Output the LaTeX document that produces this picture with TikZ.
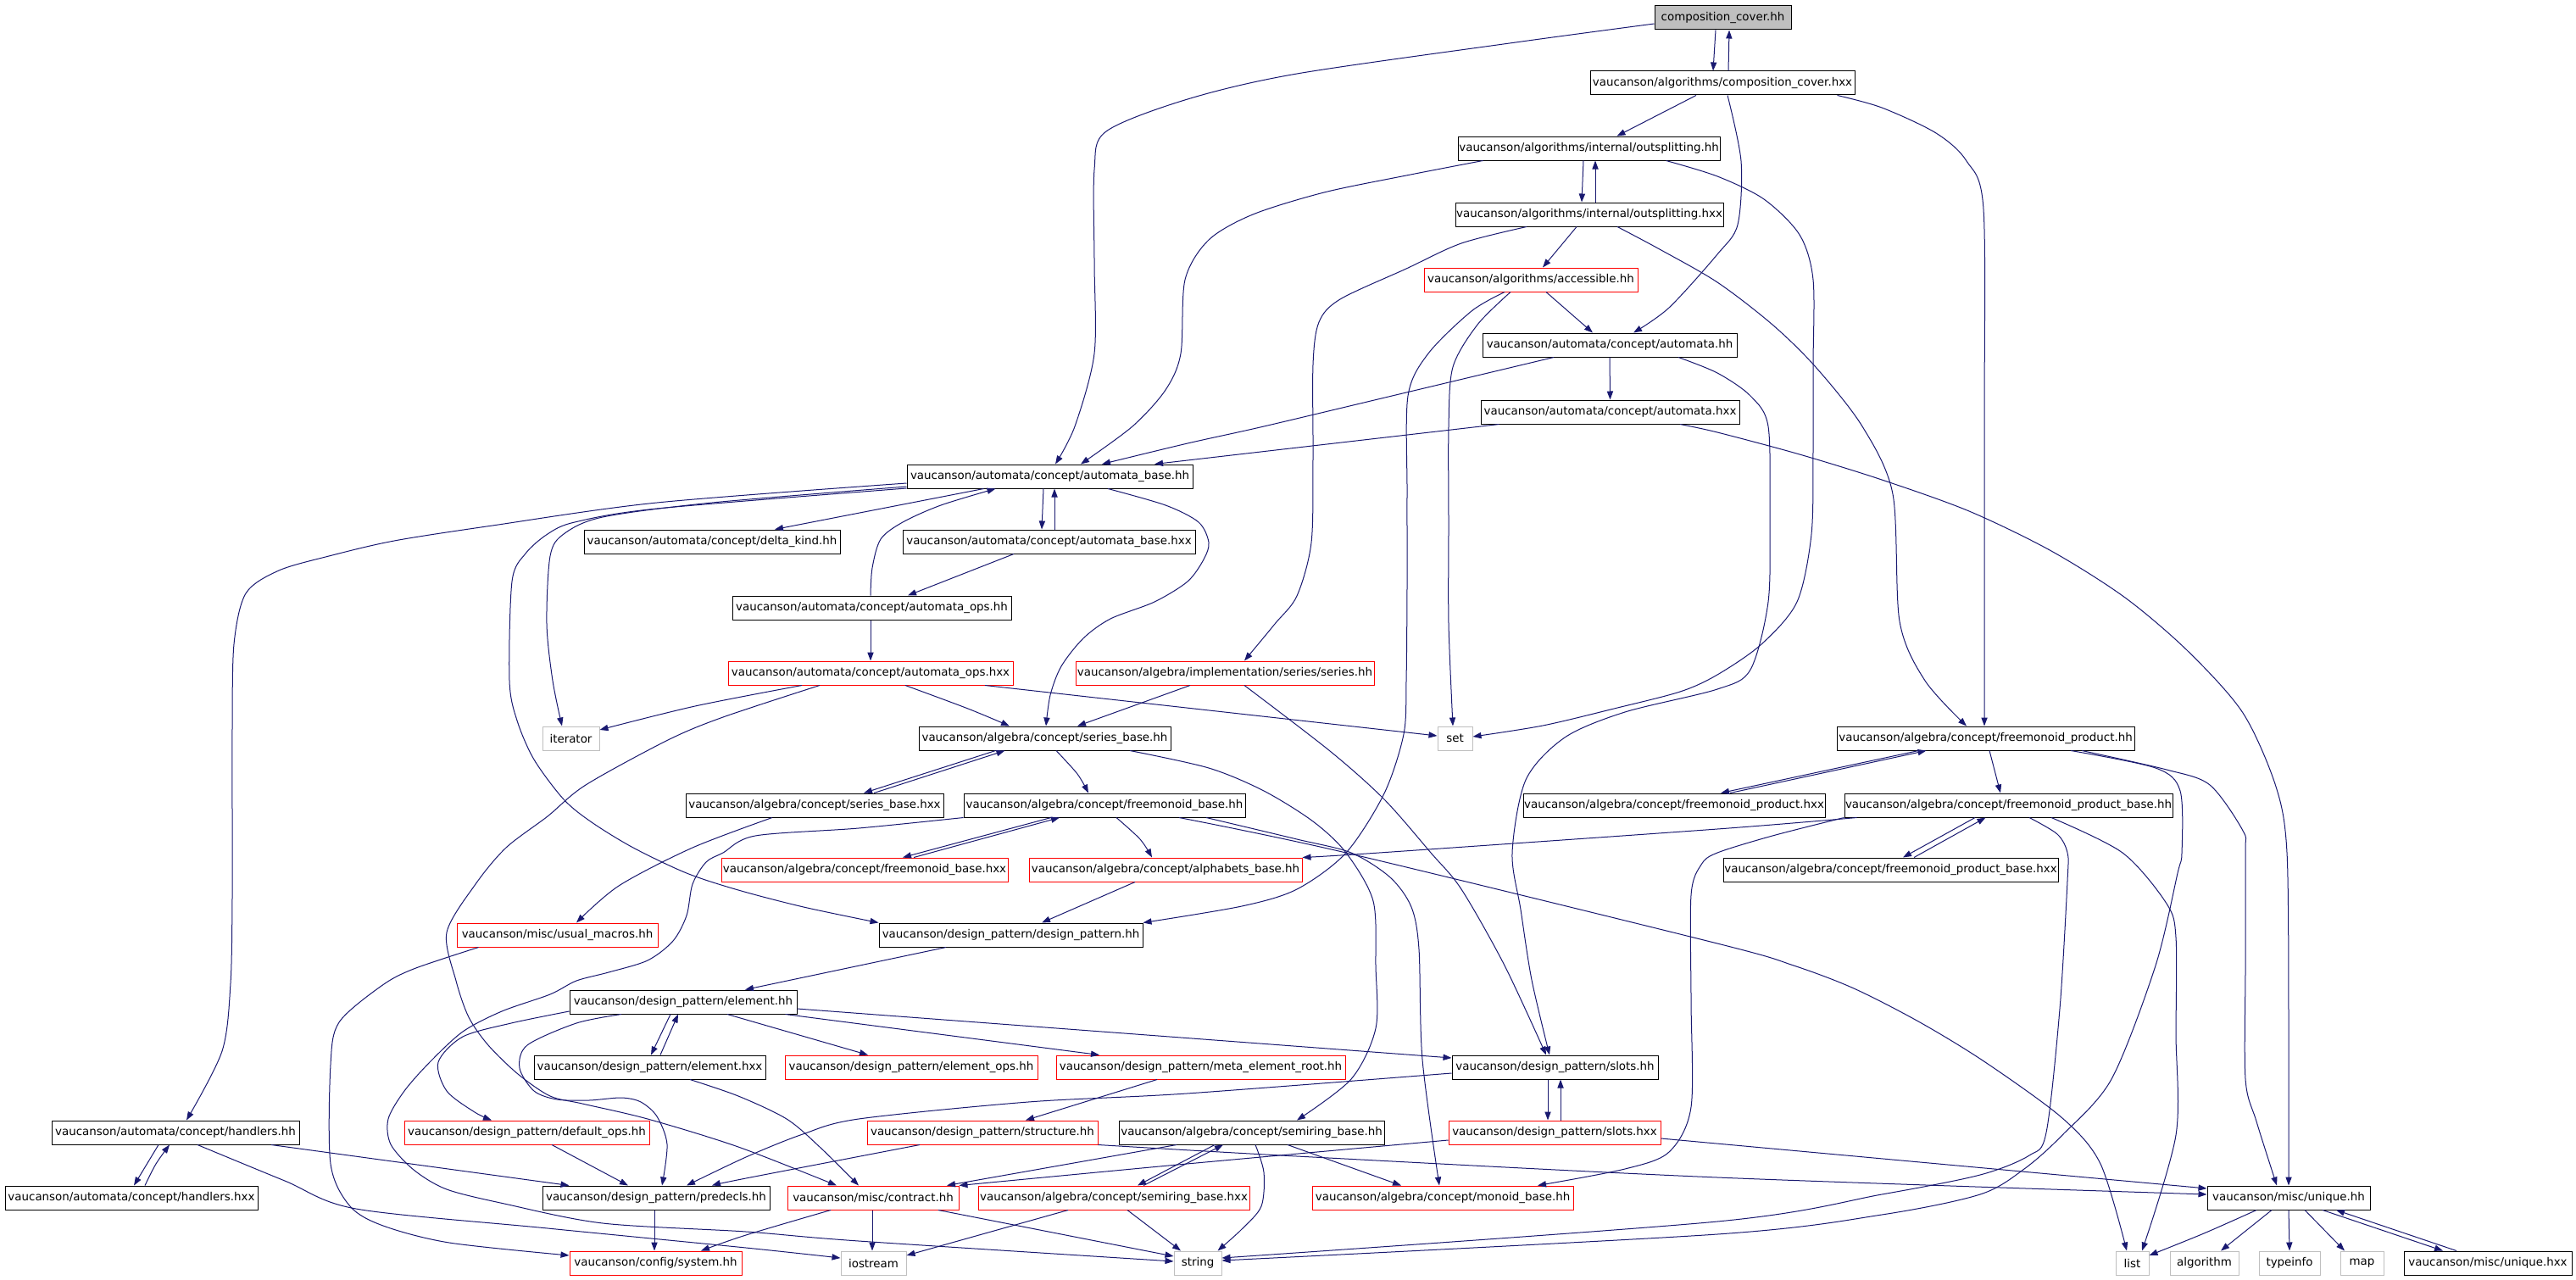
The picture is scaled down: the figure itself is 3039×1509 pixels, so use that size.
\documentclass[tikz,border=0pt]{standalone}
\usepackage{fontspec}
\newfontfamily\gfont{DejaVu Sans}
\usetikzlibrary{calc,arrows.meta}
\definecolor{edgeblue}{HTML}{191970}
\definecolor{boxgrey}{HTML}{BFBFBF}
\definecolor{boxred}{HTML}{FF0000}
\tikzset{
  box/.style={draw=black, line width=0.5pt, inner sep=0pt, minimum height=14pt,
    font=\gfont\fontsize{6.7pt}{8pt}\selectfont, text=black, anchor=center},
  rbox/.style={box, draw=boxred},
  gbox/.style={box, draw=boxgrey},
  rootbox/.style={box, fill=boxgrey},
  e/.style={draw=edgeblue, line width=0.5pt, -{Triangle[length=5pt,width=3.6pt]}},
  sm/.style={smooth, tension=0.5},
}
\begin{document}
\begin{tikzpicture}[x=0.5pt,y=-0.5pt]
\useasboundingbox (0,0) rectangle (3039,1509);
% ---------- nodes ----------
\node[rootbox, minimum width=80.5pt] (cch) at (2032.5,21) {composition\_cover.hh};
\node[box, minimum width=156pt] (cchx) at (2032,98) {vaucanson/algorithms/composition\_cover.hxx};
\node[box, minimum width=154.5pt] (osh) at (1874.5,175) {vaucanson/algorithms/internal/outsplitting.hh};
\node[box, minimum width=158pt] (osx) at (1875,253) {vaucanson/algorithms/internal/outsplitting.hxx};
\node[rbox, minimum width=126pt] (acc) at (1806,330) {vaucanson/algorithms/accessible.hh};
\node[box, minimum width=150pt] (ah) at (1899,407) {vaucanson/automata/concept/automata.hh};
\node[box, minimum width=152.5pt] (ahx) at (1899.5,486) {vaucanson/automata/concept/automata.hxx};
\node[box, minimum width=168.5pt] (ab) at (1238.5,562) {vaucanson/automata/concept/automata\_base.hh};
\node[box, minimum width=151pt] (dk) at (840,639) {vaucanson/automata/concept/delta\_kind.hh};
\node[box, minimum width=172.5pt] (abx) at (1237.5,639) {vaucanson/automata/concept/automata\_base.hxx};
\node[box, minimum width=164.5pt] (aoh) at (1028.5,717) {vaucanson/automata/concept/automata\_ops.hh};
\node[rbox, minimum width=168pt] (aox) at (1027,794) {vaucanson/automata/concept/automata\_ops.hxx};
\node[rbox, minimum width=176pt] (ser) at (1445,794) {vaucanson/algebra/implementation/series/series.hh};
\node[gbox, minimum width=33.5pt] (it) at (673.5,871) {iterator};
\node[box, minimum width=148.5pt] (sbh) at (1232.5,871) {vaucanson/algebra/concept/series\_base.hh};
\node[gbox, minimum width=20.5pt] (set) at (1716.5,871) {set};
\node[box, minimum width=175.5pt] (fph) at (2342.5,871) {vaucanson/algebra/concept/freemonoid\_product.hh};
\node[box, minimum width=152pt] (sbx) at (961,950) {vaucanson/algebra/concept/series\_base.hxx};
\node[box, minimum width=166pt] (fmb) at (1303,950) {vaucanson/algebra/concept/freemonoid\_base.hh};
\node[box, minimum width=178pt] (fphx) at (1975,950) {vaucanson/algebra/concept/freemonoid\_product.hxx};
\node[box, minimum width=193.5pt] (fpb) at (2369.5,950) {vaucanson/algebra/concept/freemonoid\_product\_base.hh};
\node[rbox, minimum width=169pt] (fmbx) at (1020,1026) {vaucanson/algebra/concept/freemonoid\_base.hxx};
\node[rbox, minimum width=161pt] (alph) at (1375,1026) {vaucanson/algebra/concept/alphabets\_base.hh};
\node[box, minimum width=197.5pt] (fpbx) at (2230.5,1026) {vaucanson/algebra/concept/freemonoid\_product\_base.hxx};
\node[rbox, minimum width=118.5pt] (um) at (657.5,1103) {vaucanson/misc/usual\_macros.hh};
\node[box, minimum width=155.5pt] (dp) at (1192.5,1103) {vaucanson/design\_pattern/design\_pattern.hh};
\node[box, minimum width=134pt] (el) at (806,1182) {vaucanson/design\_pattern/element.hh};
\node[box, minimum width=136.5pt] (elx) at (766.5,1259) {vaucanson/design\_pattern/element.hxx};
\node[rbox, minimum width=149pt] (elo) at (1075,1259) {vaucanson/design\_pattern/element\_ops.hh};
\node[rbox, minimum width=170.5pt] (mer) at (1416.5,1259) {vaucanson/design\_pattern/meta\_element\_root.hh};
\node[box, minimum width=121.5pt] (sl) at (1834.5,1259) {vaucanson/design\_pattern/slots.hh};
\node[box, minimum width=146pt] (hh) at (207,1336) {vaucanson/automata/concept/handlers.hh};
\node[rbox, minimum width=144.5pt] (dfo) at (621.5,1336) {vaucanson/design\_pattern/default\_ops.hh};
\node[rbox, minimum width=136pt] (st) at (1159,1336) {vaucanson/design\_pattern/structure.hh};
\node[box, minimum width=156.5pt] (sr) at (1476.5,1336) {vaucanson/algebra/concept/semiring\_base.hh};
\node[rbox, minimum width=125pt] (slx) at (1834,1336) {vaucanson/design\_pattern/slots.hxx};
\node[box, minimum width=149pt] (hhx) at (155,1413) {vaucanson/automata/concept/handlers.hxx};
\node[box, minimum width=134pt] (pd) at (774,1413) {vaucanson/design\_pattern/predecls.hh};
\node[rbox, minimum width=101pt] (ct) at (1030,1413) {vaucanson/misc/contract.hh};
\node[rbox, minimum width=160pt] (srx) at (1314,1413) {vaucanson/algebra/concept/semiring\_base.hxx};
\node[rbox, minimum width=154pt] (mb) at (1702,1413) {vaucanson/algebra/concept/monoid\_base.hh};
\node[box, minimum width=96pt] (uq) at (2700,1413) {vaucanson/misc/unique.hh};
\node[rbox, minimum width=101.5pt] (sys) at (773.5,1490) {vaucanson/config/system.hh};
\node[gbox, minimum width=38.5pt] (ios) at (1030.5,1490) {iostream};
\node[gbox, minimum width=28pt] (str) at (1413,1490) {string};
\node[gbox, minimum width=19.5pt] (lst) at (2515.5,1490) {list};
\node[gbox, minimum width=40.5pt] (alg) at (2600.5,1490) {algorithm};
\node[gbox, minimum width=36pt] (ti) at (2701,1490) {typeinfo};
\node[gbox, minimum width=25.5pt] (mp) at (2786.5,1490) {map};
\node[box, minimum width=99pt] (uqx) at (2935,1490) {vaucanson/misc/unique.hxx};
% ---------- edges ----------
\draw[e] ($(cch.south)+(-8.5,0)$) -- ($(cchx.north)+(-11,0)$);
\draw[e] ($(cchx.north)+(7,0)$) -- ($(cch.south)+(7.5,0)$);
\draw[e] plot[sm] coordinates {($(cch.west)+(0,7)$) (1788,50) (1530,87) (1401,117) (1305,155) (1291,200) (1291,310) (1291,417) (1268,503) ($(ab.north)+(6.5,0)$)};
\draw[e] ($(cchx.south)+(-31,0)$) -- ($(osh.north)+(33,0)$);
\draw[e] plot[sm] coordinates {($(cchx.south)+(6,0)$) (2054,190) (2050,265) (2026,300) (1969,363) ($(ah.north)+(28,0)$)};
\draw[e] plot[sm] coordinates {($(cchx.south east)+(-21,0)$) (2220,127) (2284,157) (2320,190) (2340,247) (2341,500) ($(fph.north)+(-1.5,0)$)};
\draw[e] ($(osh.south)+(-6.5,0)$) -- ($(osx.north)+(-9,0)$);
\draw[e] ($(osx.north)+(7,0)$) -- ($(osh.south)+(7.5,0)$);
\draw[e] plot[sm] coordinates {($(osh.south)+(-125,0)$) (1659,207) (1562,227) (1478,253) (1426,283) (1398,330) (1393,417) (1375,460) (1336,503) ($(ab.north)+(36.5,0)$)};
\draw[e] plot[sm] coordinates {($(osh.south)+(91,0)$) (2026,208) (2081,235) (2123,277) (2139,330) (2139,430) (2139,530) (2137,630) (2120,710) (2078,760) (2026,796) (1982,816) (1904,836) (1820,856) ($(set.east)+(0,-2)$)};
\draw[e] ($(osx.south)+(-15,0)$) -- ($(acc.north)+(14,0)$);
\draw[e] plot[sm] coordinates {($(osx.south)+(-74,0)$) (1724,287) (1659,317) (1581,353) (1556,380) (1549,430) (1549,540) (1547,640) (1530,703) (1504,736) ($(ser.north)+(23,0)$)};
\draw[e] plot[sm] coordinates {($(osx.south)+(33,0)$) (1956,293) (2026,333) (2091,383) (2142,433) (2197,503) (2233,583) (2241,733) (2271,803) ($(fph.north)+(-22.5,0)$)};
\draw[e] ($(acc.south)+(18,0)$) -- ($(ah.north)+(-20,0)$);
\draw[e] plot[sm] coordinates {($(acc.south)+(-24,0)$) (1743,383) (1714,433) (1709,503) (1709,620) (1709,736) ($(set.north)+(-2.5,0)$)};
\draw[e] plot[sm] coordinates {($(acc.south)+(-31,0)$) (1736,367) (1685,417) (1661,467) (1660,580) (1660,690) (1659,803) (1656,866) (1633,936) (1588,1006) (1530,1049) (1465,1069) (dp.north east)};
\draw[e] plot[sm] coordinates {($(ah.south)+(-66,0)$) (1659,463) (1491,503) (1401,523) ($(ab.north)+(61.5,0)$)};
\draw[e] (ah.south) -- (ahx.north);
\draw[e] plot[sm] coordinates {($(ah.south)+(81,0)$) (2026,440) (2065,467) (2086,503) (2088,610) (2086,710) (2065,790) (2026,813) (1917,840) (1846,870) (1800,920) (1784,1006) (1794,1073) (1807,1156) ($(sl.north)+(-6.5,0)$)};
\draw[e] ($(ahx.south west)+(22,0)$) -- ($(ab.north)+(123.5,0)$);
\draw[e] plot[sm] coordinates {($(ahx.south)+(82.5,0)$) (2026,510) (2123,536) (2220,566) (2323,603) (2420,650) (2507,705) (2581,768) (2646,841) (2685,928) (2698,1006) (2700,1200) (uq.north)};
\draw[e] ($(ab.south)+(-78,0)$) -- ($(dk.north)+(74,0)$);
\draw[e] ($(ab.south)+(-7.5,0)$) -- ($(abx.north)+(-8.5,0)$);
\draw[e] ($(abx.north)+(6.5,0)$) -- ($(ab.south)+(5.5,0)$);
\draw[e] plot[sm] coordinates {($(ab.west)+(0,12)$) (840,593) (711,610) (665,630) (649,656) (645,736) (652,803) ($(it.north)+(-10.5,0)$)};
\draw[e] plot[sm] coordinates {($(ab.west)+(0,14)$) (775,600) (678,616) (646,630) (620,653) (604,686) (601,803) (610,850) (630,896) (665,943) (698,970) (747,1000) (810,1030) (871,1050) (948,1070) (dp.north west)};
\draw[e] plot[sm] coordinates {($(ab.west)+(0,8)$) (775,593) (581,620) (465,638) (388,656) (329,673) (290,700) (276,760) (274,860) (274,960) (274,1060) (272,1160) (262,1240) ($(hh.north)+(13,0)$)};
\draw[e] plot[sm] coordinates {($(ab.south)+(68.5,0)$) (1375,596) (1414,616) (1426,640) (1420,660) (1401,686) (1362,710) (1310,730) (1278,753) (1252,786) (1239,820) ($(sbh.north)+(1.5,0)$)};
\draw[e] ($(abx.south)+(-41.5,0)$) -- ($(aoh.north)+(42.5,0)$);
\draw[e] plot[sm] coordinates {($(aoh.north)+(-1.5,0)$) (1029,670) (1039,636) (1065,616) (1110,596) ($(ab.south)+(-64,0)$)};
\draw[e] ($(aoh.south)+(-1.5,0)$) -- (aox.north);
\draw[e] plot[sm] coordinates {($(aox.south)+(-81,0)$) (820,833) ($(it.east)+(0,-10)$)};
\draw[e] plot[sm] coordinates {($(aox.south)+(41,0)$) (1142,836) ($(sbh.north)+(-41.5,0)$)};
\draw[e] ($(aox.south)+(135,0)$) -- ($(set.west)+(0,-3)$);
\draw[e] plot[sm] coordinates {($(aox.south)+(-60,0)$) (853,846) (788,873) (691,926) (646,963) (597,1000) (561,1043) (527,1100) (538,1157) (553,1200) (576,1233) (611,1267) (649,1293) (687,1302) (764,1320) (871,1353) ($(ct.north)+(-43,0)$)};
\draw[e] ($(ser.south)+(-41,0)$) -- ($(sbh.north)+(38.5,0)$);
\draw[e] plot[sm] coordinates {($(ser.south)+(23,0)$) (1569,886) (1633,943) (1688,1006) (1724,1049) (1775,1139) ($(sl.north)+(-10.5,0)$)};
\draw[e] ($(sbh.south)+(-58,0)$) -- ($(sbx.north)+(58,0)$);
\draw[e] ($(sbx.north)+(70,0)$) -- ($(sbh.south)+(-47,0)$);
\draw[e] plot[sm] coordinates {($(sbh.south)+(13.5,0)$) (1271,913) ($(fmb.north)+(-19,0)$)};
\draw[e] plot[sm] coordinates {($(sbh.south)+(100.5,0)$) (1426,906) (1491,933) (1549,969) (1588,1006) (1620,1063) (1623,1140) (1623,1213) (1594,1273) ($(sr.north)+(53.5,0)$)};
\draw[e] plot[sm] coordinates {($(sbx.south)+(-50,0)$) (817,1000) (730,1045) ($(um.north)+(22.5,0)$)};
\draw[e] ($(fmb.south)+(-63,0)$) -- ($(fmbx.north)+(45,0)$);
\draw[e] ($(fmbx.north)+(58,0)$) -- ($(fmb.south)+(-53,0)$);
\draw[e] plot[sm] coordinates {($(fmb.south)+(14,0)$) (1345,990) ($(alph.north)+(-16,0)$)};
\draw[e] plot[sm] coordinates {($(fmb.south)+(88,0)$) (1588,1006) (2026,1113) (2116,1139) (2187,1166) (2265,1206) (2342,1253) (2433,1319) (2478,1373) ($(lst.north)+(-6.5,0)$)};
\draw[e] plot[sm] coordinates {($(fmb.south)+(120,0)$) (1530,990) (1594,1006) (1640,1035) (1665,1070) (1674,1120) (1678,1250) ($(mb.north)+(-4,0)$)};
\draw[e] plot[sm] coordinates {(fmb.south west) (1013,977) (891,986) (853,1006) (833,1017) (817,1043) (810,1080) (794,1110) (764,1133) (718,1147) (680,1157) (649,1173) (592,1193) (546,1217) (507,1253) (477,1287) (458,1320) (461,1350) (488,1380) (527,1403) (595,1420) (711,1443) (880,1453) (1013,1464) ($(str.west)+(0,-2)$)};
\draw[e] ($(fph.south)+(-79,0)$) -- ($(fphx.north)+(55,0)$);
\draw[e] ($(fphx.north)+(66,0)$) -- ($(fph.south)+(-70,0)$);
\draw[e] ($(fph.south)+(4.5,0)$) -- ($(fpb.north)+(-9.5,0)$);
\draw[e] plot[sm] coordinates {($(fph.south)+(113.5,0)$) (2556,908) (2607,926) (2646,980) (2649,1006) (2649,1140) (2649,1273) (2662,1323) ($(uq.north)+(-14,0)$)};
\draw[e] plot[sm] coordinates {($(fph.south)+(100.5,0)$) (2543,906) (2572,933) (2574,1006) (2569,1030) (2543,1139) (2491,1273) (2433,1339) (2388,1379) (2336,1409) (2220,1433) (2026,1456) ($(str.east)+(0,-3)$)};
\draw[e] ($(fpb.south)+(-39.5,0)$) -- ($(fpbx.north)+(14.5,0)$);
\draw[e] ($(fpbx.north)+(27.5,0)$) -- ($(fpb.south)+(-27,0)$);
\draw[e] plot[sm] coordinates {($(fpb.south)+(24.5,0)$) (2427,984) (2439,1006) (2439,1039) (2430,1190) (2414,1336) (2394,1363) (2336,1386) (2220,1409) (2026,1441) ($(str.east)+(0,-6)$)};
\draw[e] plot[sm] coordinates {($(fpb.south)+(50.5,0)$) (2504,1006) (2556,1066) (2567,1106) (2567,1220) (2567,1339) ($(lst.north)+(11.5,0)$)};
\draw[e] plot[sm] coordinates {($(fpb.south west)+(15,0)$) (2026,978) (1627,1006) (alph.north east)};
\draw[e] plot[sm] coordinates {(fpb.south west) (2091,986) (2026,1006) (2007,1020) (1995,1056) (1995,1180) (1995,1306) (1969,1359) (1917,1379) ($(mb.north)+(112,0)$)};
\draw[e] ($(dp.south)+(-76.5,0)$) -- ($(el.north)+(73,0)$);
\draw[e] ($(alph.south)+(-36,0)$) -- ($(dp.north)+(36.5,0)$);
\draw[e] plot[sm] coordinates {($(um.south west)+(26,0)$) (488,1143) (450,1163) (400,1206) (390,1256) (390,1373) (413,1423) (452,1446) (530,1466) ($(sys.west)+(0,-9)$)};
\draw[e] ($(el.south)+(-15,0)$) -- ($(elx.north)+(1.5,0)$);
\draw[e] ($(elx.north)+(12.5,0)$) -- ($(el.south)+(-6,0)$);
\draw[e] plot[sm] coordinates {($(el.west)+(0,11)$) (603,1207) (546,1223) (517,1253) (527,1287) (560,1312) ($(dfo.north)+(-41.5,0)$)};
\draw[e] plot[sm] coordinates {($(el.south)+(-73,0)$) (680,1207) (622,1233) (613,1260) (630,1287) (657,1297) (695,1298) (733,1295) (756,1300) (775,1317) (787,1350) ($(pd.north)+(7,0)$)};
\draw[e] ($(el.south)+(52,0)$) -- ($(elo.north)+(-51,0)$);
\draw[e] ($(el.south east)+(-14,0)$) -- ($(mer.north)+(-119.5,0)$);
\draw[e] ($(el.east)+(0,8)$) -- ($(sl.west)+(0,-11)$);
\draw[e] plot[sm] coordinates {($(elx.south)+(47.5,0)$) (871,1293) (928,1320) (967,1353) ($(ct.north)+(-17,0)$)};
\draw[e] ($(dfo.south)+(29.5,0)$) -- ($(pd.north)+(-33,0)$);
\draw[e] ($(hh.south)+(113,0)$) -- ($(pd.north west)+(32,0)$);
\draw[e] ($(hh.south)+(-20,0)$) -- ($(hhx.north)+(3,0)$);
\draw[e] plot[sm] coordinates {($(hhx.north)+(16,0)$) (184,1373) ($(hh.south)+(-7,0)$)};
\draw[e] plot[sm] coordinates {($(hh.south)+(26,0)$) (336,1393) (420,1426) (646,1449) (880,1472) ($(ios.west)+(0,-6)$)};
\draw[e] ($(pd.south)+(-2,0)$) -- ($(sys.north)+(-1.5,0)$);
\draw[e] ($(sl.south)+(-8.5,0)$) -- ($(slx.north)+(-8,0)$);
\draw[e] ($(slx.north)+(7,0)$) -- ($(sl.south)+(6.5,0)$);
\draw[e] plot[sm] coordinates {($(sl.west)+(0,7)$) (1400,1290) (1213,1300) (1013,1320) (947,1338) (880,1365) ($(pd.north)+(36,0)$)};
\draw[e] ($(mer.south)+(-51.5,0)$) -- ($(st.north)+(51,0)$);
\draw[e] plot[sm] coordinates {($(st.south)+(-74,0)$) (880,1390) ($(pd.north)+(66,0)$)};
\draw[e] plot[sm] coordinates {(st.south east) (1530,1364) (2026,1389) ($(uq.west)+(0,-4)$)};
\draw[e] ($(slx.east)+(0,7)$) -- ($(uq.west)+(0,-11)$);
\draw[e] plot[sm] coordinates {($(slx.west)+(0,9)$) (1400,1373) (ct.north east)};
\draw[e] ($(sr.south)+(-88.5,0)$) -- ($(ct.north)+(87,0)$);
\draw[e] ($(sr.south)+(-43.5,0)$) -- ($(srx.north)+(28,0)$);
\draw[e] ($(srx.north)+(35,0)$) -- ($(sr.south)+(-33.5,0)$);
\draw[e] ($(sr.south)+(42.5,0)$) -- ($(mb.north)+(-49,0)$);
\draw[e] plot[sm] coordinates {($(sr.south)+(4.5,0)$) (1491,1383) (1488,1423) (1465,1450) ($(str.north east)+(-5,0)$)};
\draw[e] ($(srx.south)+(-54,0)$) -- ($(ios.east)+(0,-9)$);
\draw[e] ($(srx.south)+(16,0)$) -- ($(str.north)+(-20,0)$);
\draw[e] ($(ct.south)+(-1,0)$) -- ($(ios.north)+(-1.5,0)$);
\draw[e] ($(ct.south)+(77,0)$) -- ($(str.west)+(0,-8)$);
\draw[e] plot[sm] coordinates {($(ct.south)+(-50,0)$) (880,1457) ($(sys.north)+(53.5,0)$)};
\draw[e] plot[sm] coordinates {($(uq.south)+(-38,0)$) (2600,1455) ($(lst.east)+(0,-9)$)};
\draw[e] ($(uq.south)+(-20,0)$) -- ($(alg.north)+(19.5,0)$);
\draw[e] (uq.south) -- (ti.north);
\draw[e] ($(uq.south)+(19,0)$) -- ($(mp.north)+(-20.5,0)$);
\draw[e] ($(uq.south)+(40,0)$) -- ($(uqx.north)+(-53,0)$);
\draw[e] ($(uqx.north)+(-37,0)$) -- ($(uq.south)+(56,0)$);
\end{tikzpicture}
\end{document}
